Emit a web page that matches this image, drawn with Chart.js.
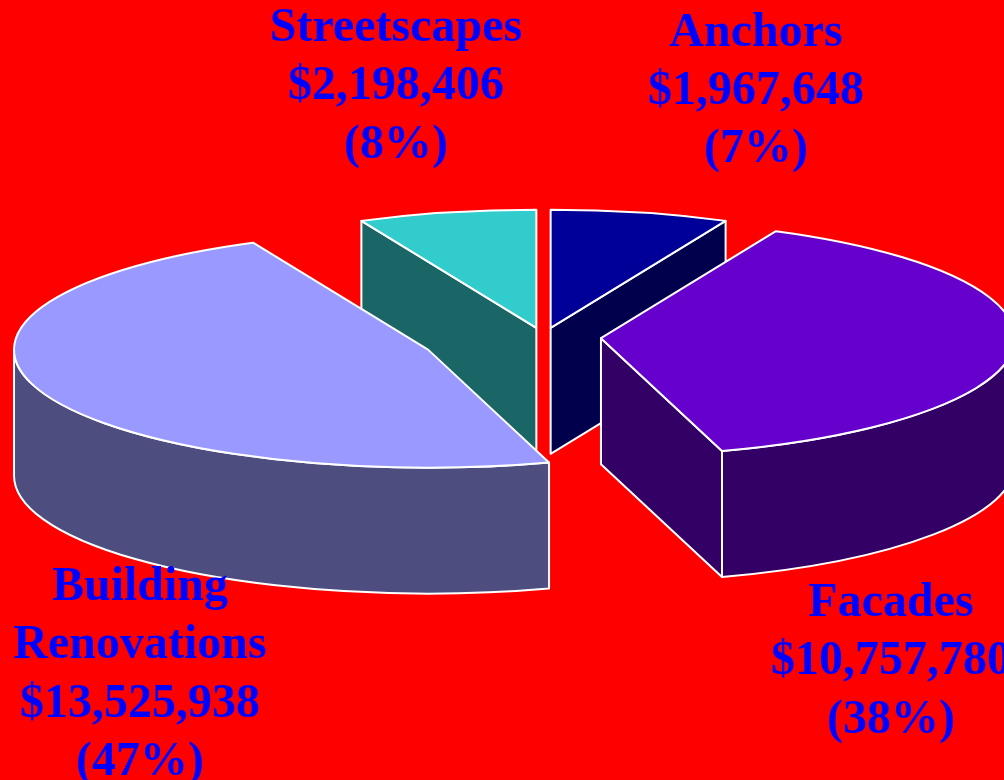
<!DOCTYPE html>
<html>
<head>
<meta charset="utf-8">
<title>Program funding</title>
<script src="https://cdn.jsdelivr.net/npm/chart.js@4"></script>
<style>
    html, body { margin: 0; padding: 0; background: #ff0000; overflow: hidden; }
    canvas { display: block; }
</style>
</head>
<body>
<canvas id="myChart" width="1004" height="780"></canvas>
<script>
// slices, clockwise from twelve o'clock
const categories = ['Anchors', 'Facades', 'Building Renovations', 'Streetscapes'];
// slice sizes in degrees as measured on the picture; they run a little off the dollar labels
const sliceDegrees = [25, 138, 172, 25];
const labelLines = [
    ['Anchors', '$1,967,648', '(7%)'],
    ['Facades', '$10,757,780', '(38%)'],
    ['Building', 'Renovations', '$13,525,938', '(47%)'],
    ['Streetscapes', '$2,198,406', '(8%)']
];

const topColors = ['#000099', '#6600cc', '#9999ff', '#33cccc'];
const wallColors = ['#00004d', '#330066', '#4d4d80', '#1a6666'];

// look of the tilted pie, in screen pixels
const pieCenter = { x: 543.5, y: 337 };
const radiusX = 414;
const radiusY = 118;
const depth = 126;
const explode = [33, 57.6, 123.7, 33];

// where each label block sits: centre x, first baseline, line gap
const labelX = [756, 891, 140, 396];
const labelY = [46, 616, 600, 41];
const lineGap = [57.8, 58.3, 58.4, 58.3];

function apexOf(arc, index) {
    const mid = (arc.startAngle + arc.endAngle) / 2;
    return {
        x: pieCenter.x + explode[index] * Math.cos(mid),
        y: pieCenter.y + explode[index] * Math.sin(mid) * radiusY / radiusX
    };
}

function rimPoint(apex, angle) {
    return { x: apex.x + radiusX * Math.cos(angle), y: apex.y + radiusY * Math.sin(angle) };
}

function drawRadialWall(ctx, apex, angle, color) {
    const rim = rimPoint(apex, angle);
    ctx.beginPath();
    ctx.moveTo(apex.x, apex.y);
    ctx.lineTo(rim.x, rim.y);
    ctx.lineTo(rim.x, rim.y + depth);
    ctx.lineTo(apex.x, apex.y + depth);
    ctx.closePath();
    ctx.fillStyle = color;
    ctx.fill();
    ctx.stroke();
}

function drawOuterWall(ctx, apex, from, to, color) {
    ctx.beginPath();
    ctx.ellipse(apex.x, apex.y, radiusX, radiusY, 0, from, to);
    ctx.ellipse(apex.x, apex.y + depth, radiusX, radiusY, 0, to, from, true);
    ctx.closePath();
    ctx.fillStyle = color;
    ctx.fill();
    ctx.stroke();
}

const tiltedPie = {
    id: 'tiltedPie',
    beforeDatasetsDraw(chart) {
        const ctx = chart.ctx;
        const arcs = chart.getDatasetMeta(0).data;
        // paint back to front
        const order = arcs.map((arc, i) => i).sort((a, b) =>
            Math.sin((arcs[a].startAngle + arcs[a].endAngle) / 2) - Math.sin((arcs[b].startAngle + arcs[b].endAngle) / 2));

        ctx.save();
        ctx.strokeStyle = '#ffffff';
        ctx.lineWidth = 2;
        ctx.lineJoin = 'round';

        order.forEach(i => {
            const arc = arcs[i];
            const apex = apexOf(arc, i);
            if (Math.cos(arc.startAngle) < -0.001) drawRadialWall(ctx, apex, arc.startAngle, wallColors[i]);
            if (Math.cos(arc.endAngle) > 0.001) drawRadialWall(ctx, apex, arc.endAngle, wallColors[i]);
            const from = Math.max(arc.startAngle, 0);
            const to = Math.min(arc.endAngle, Math.PI);
            if (to > from) drawOuterWall(ctx, apex, from, to, wallColors[i]);
        });

        order.forEach(i => {
            const arc = arcs[i];
            const apex = apexOf(arc, i);
            // the arc element fills the top, squashed into an ellipse
            ctx.save();
            ctx.translate(apex.x, apex.y);
            ctx.scale(radiusX / arc.outerRadius, radiusY / arc.outerRadius);
            ctx.translate(-arc.x, -arc.y);
            arc.draw(ctx);
            ctx.restore();
            ctx.beginPath();
            ctx.moveTo(apex.x, apex.y);
            ctx.ellipse(apex.x, apex.y, radiusX, radiusY, 0, arc.startAngle, arc.endAngle);
            ctx.closePath();
            ctx.stroke();
        });
        ctx.restore();
        return false;
    },
    afterDraw(chart) {
        const ctx = chart.ctx;
        ctx.save();
        ctx.font = 'bold 48px "Liberation Serif"';
        ctx.fillStyle = '#0000ff';
        ctx.textAlign = 'center';
        ctx.textBaseline = 'alphabetic';
        labelLines.forEach((lines, i) => {
            lines.forEach((line, n) => ctx.fillText(line, labelX[i], labelY[i] + n * lineGap[i]));
        });
        ctx.restore();
    }
};

new Chart(document.getElementById('myChart').getContext('2d'), {
    type: 'pie',
    data: {
        labels: categories,
        datasets: [{
            data: sliceDegrees,
            backgroundColor: topColors,
            borderWidth: 0
        }]
    },
    options: {
        responsive: false,
        animation: false,
        plugins: {
            legend: { display: false },
            tooltip: { enabled: false }
        }
    },
    plugins: [tiltedPie]
});
</script>
</body>
</html>
